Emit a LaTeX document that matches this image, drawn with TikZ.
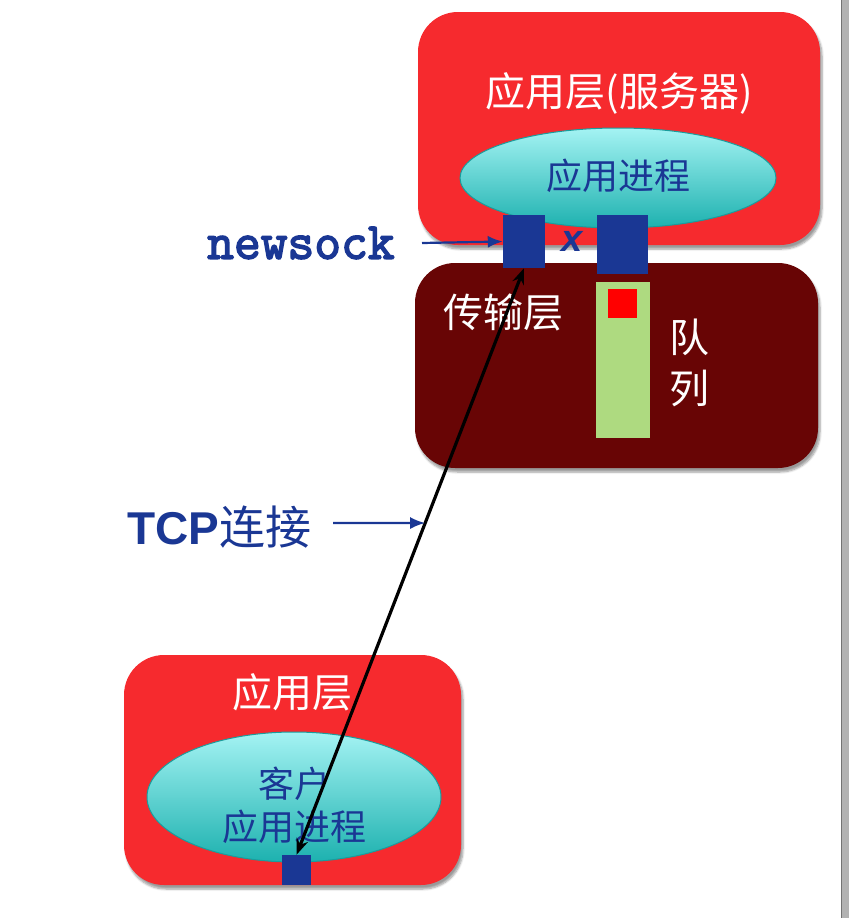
\documentclass[tikz,border=0pt]{standalone}
\usepackage{fontspec}
\setmainfont{Liberation Sans}
\newfontfamily\courfont{Latin Modern Mono}[FakeBold=3]
\newfontfamily\cjk{Noto Sans CJK SC}
\usetikzlibrary{shapes.geometric,arrows.meta,shadows.blur}
\definecolor{appred}{HTML}{F62A2E}
\definecolor{tdark}{HTML}{680505}
\definecolor{cyantop}{HTML}{A4F3F3}
\definecolor{cyanbot}{HTML}{1DB1AF}
\definecolor{cyanedge}{HTML}{1A9C9C}
\definecolor{sockblue}{HTML}{1A3794}
\definecolor{qgreen}{HTML}{AEDA80}
\tikzset{
  layerbox/.style={rectangle, rounded corners=40pt, draw=none,
    blur shadow={shadow xshift=2pt, shadow yshift=-4pt, shadow blur steps=6}},
  applayer/.style={layerbox, fill=appred},
  translayer/.style={layerbox, fill=tdark},
  proc/.style={ellipse, draw=cyanedge, line width=1pt, top color=cyantop, bottom color=cyanbot},
  sock/.style={rectangle, fill=sockblue, draw=none, inner sep=0pt},
  whitetxt/.style={text=white, font=\cjk\fontsize{40}{44}\selectfont, inner sep=0pt},
  bluetxt/.style={text=sockblue, font=\cjk\fontsize{36}{40}\selectfont, inner sep=0pt},
  ptr/.style={draw=sockblue, line width=2.2pt, -{Latex[length=15pt,width=12pt]}},
}
\begin{document}
\begin{tikzpicture}[x=1pt,y=-1pt]
\useasboundingbox (0,0) rectangle (849,918);
% right gray bar
\fill[gray!60] (841,0) rectangle (849,918);
\draw[gray!90!black, line width=1pt] (841.5,0) -- (841.5,918);

% server application layer
\node[applayer, minimum width=402pt, minimum height=233pt] (srvapp) at (619,128.5) {};
\node[whitetxt] (srvlbl) at (619,93) {应用层(服务器)};
\node[proc, minimum width=316pt, minimum height=100pt, inner sep=0pt] (srvproc) at (618,178) {};
\node[bluetxt] (srvproctxt) at (618,176) {应用进程};

% transport layer
\node[translayer, minimum width=403pt, minimum height=205pt] (trans) at (616.5,365.5) {};
\node[whitetxt] (translbl) at (503,312) {传输层};
\node[rectangle, fill=qgreen, minimum width=54pt, minimum height=156pt, inner sep=0pt] (queue) at (623,360) {};
\node[rectangle, fill=red, minimum width=29pt, minimum height=29pt, inner sep=0pt] (qitem) at (622.5,303.5) {};
\node[whitetxt] (qlbl1) at (689,337) {队};
\node[whitetxt] (qlbl2) at (689,388) {列};

% sockets
\node[sock, minimum width=42pt, minimum height=53pt] (nsock) at (524,241.5) {};
\node[sock, minimum width=51pt, minimum height=59pt] (lsock) at (622.5,244.5) {};
\node[text=sockblue, inner sep=0pt] (xlbl) at (572,241)
  {\bfseries\itshape\fontsize{38}{40}\selectfont x};

% newsock label
\node[text=sockblue, inner sep=0pt, anchor=west] (newsock) at (207,243)
  {\courfont\fontsize{52}{54}\selectfont newsock};
\coordinate (nsfrom) at (422,243);
\draw[ptr] (nsfrom) -- (nsock.west);

% client application layer
\node[applayer, minimum width=337pt, minimum height=230pt] (cliapp) at (292.5,770) {};
\node[whitetxt] (clilbl) at (292,692) {应用层};
\node[proc, minimum width=294pt, minimum height=130pt, inner sep=0pt] (cliproc) at (294,797) {};
\node[bluetxt] (clitxt1) at (294,784) {客户};
\node[bluetxt] (clitxt2) at (294,827) {应用进程};
\node[sock, minimum width=29pt, minimum height=30pt] (csock) at (296.5,870) {};

% TCP connection
\draw[black, line width=3.2pt, {Stealth[length=16pt,width=12pt]}-{Stealth[length=16pt,width=12pt]}]
  (csock.north) -- coordinate[pos=0.5656] (tcpmid) (nsock.south);
\node[text=sockblue, inner sep=0pt, anchor=west] (tcplbl) at (127,527)
  {\bfseries\fontsize{46}{48}\selectfont TCP{\cjk\mdseries 连接}};
\coordinate (tcpfrom) at (333,523);
\draw[ptr] (tcpfrom) -- (tcpmid);
\end{tikzpicture}
\end{document}
